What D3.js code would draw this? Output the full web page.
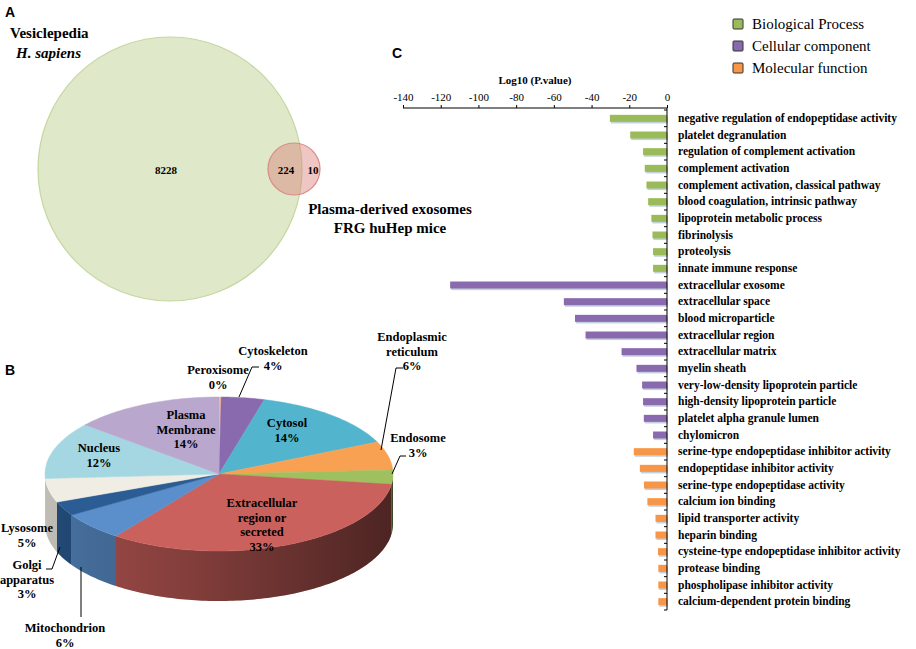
<!DOCTYPE html>
<html>
<head>
<meta charset="utf-8">
<script src="https://cdn.jsdelivr.net/npm/d3@7"></script>
<style>
  body { margin: 0; background: #fff; }
  svg { display: block; }
  text { font-family: "Liberation Serif", "Times New Roman", serif; fill: #000; }
</style>
</head>
<body>
<div id="chart"></div>
<script>
// ---- data ----
const vennNames = ["Vesiclepedia", "Plasma-derived exosomes"];
const vennCounts = [8228, 224, 10]; // only left, shared, only right

const pieNames = ["Peroxisome", "Cytoskeleton", "Cytosol", "Endoplasmic reticulum", "Endosome",
  "Extracellular region or secreted", "Mitochondrion", "Golgi apparatus", "Lysosome", "Nucleus", "Plasma Membrane"];
const piePercents = [0.2, 4, 14, 6, 3, 33, 6, 3, 5, 12, 14];
const pieShown = ["0%", "4%", "14%", "6%", "3%", "33%", "6%", "3%", "5%", "12%", "14%"];
const pieColors = ["#fac090", "#8a6aae", "#52b4cd", "#f8a153", "#9fc05f", "#cb615c",
  "#5b8fcb", "#2b5d94", "#f0eee4", "#a5d7e3", "#b9a7cd"];

const goTerms = [
  "negative regulation of endopeptidase activity", "platelet degranulation",
  "regulation of complement activation", "complement activation",
  "complement activation, classical pathway", "blood coagulation, intrinsic pathway",
  "lipoprotein metabolic process", "fibrinolysis", "proteolysis", "innate immune response",
  "extracellular exosome", "extracellular space", "blood microparticle", "extracellular region",
  "extracellular matrix", "myelin sheath", "very-low-density lipoprotein particle",
  "high-density lipoprotein particle", "platelet alpha granule lumen", "chylomicron",
  "serine-type endopeptidase inhibitor activity", "endopeptidase inhibitor activity",
  "serine-type endopeptidase activity", "calcium ion binding", "lipid transporter activity",
  "heparin binding", "cysteine-type endopeptidase inhibitor activity", "protease binding",
  "phospholipase inhibitor activity", "calcium-dependent protein binding"
];
const goValues = [-30.3, -19.5, -12.7, -11.8, -10.9, -10.0, -8.3, -7.7, -7.4, -7.4,
  -115, -54.7, -48.8, -43.2, -24.1, -16.2, -13.2, -12.7, -12.3, -7.4,
  -17.6, -14.4, -12.2, -10.4, -6.1, -6.1, -4.8, -4.6, -4.6, -4.6];
const goGroups = [0,0,0,0,0,0,0,0,0,0, 1,1,1,1,1,1,1,1,1,1, 2,2,2,2,2,2,2,2,2,2];
const groupNames = ["Biological Process", "Cellular component", "Molecular function"];
const groupColors = ["#9bbb59", "#8a6aae", "#f79646"];
const xTicks = [-140, -120, -100, -80, -60, -40, -20, 0];

// ---- svg ----
const W = 916, H = 649;
const svg = d3.select("#chart").append("svg").attr("width", W).attr("height", H);

const panelLetter = (t, x, y) => svg.append("text").attr("x", x).attr("y", y)
  .style("font-family", "'Liberation Sans', Arial, sans-serif")
  .attr("font-size", 14).attr("font-weight", "bold").text(t);

// ---- A: venn ----
panelLetter("A", 5, 17);
const venn = svg.append("g");
venn.append("circle").attr("cx", 170).attr("cy", 169).attr("r", 132)
  .attr("fill", "#dfe8c9").attr("stroke", "#c4d7a0").attr("stroke-width", 1.2);
venn.append("circle").attr("cx", 294).attr("cy", 169).attr("r", 26)
  .attr("fill", "#d9807a").attr("fill-opacity", 0.45).attr("stroke", "#d98a86").attr("stroke-width", 1.2);

const vennText = venn.append("g").attr("font-size", 11).attr("font-weight", "bold").attr("text-anchor", "middle");
vennText.append("text").attr("x", 166).attr("y", 174).text(vennCounts[0]);
vennText.append("text").attr("x", 286).attr("y", 174).text(vennCounts[1]);
vennText.append("text").attr("x", 313).attr("y", 174).text(vennCounts[2]);

venn.append("text").attr("x", 10).attr("y", 38).attr("font-size", 15).attr("font-weight", "bold").text(vennNames[0]);
venn.append("text").attr("x", 16).attr("y", 58).attr("font-size", 15).attr("font-weight", "bold")
  .attr("font-style", "italic").text("H. sapiens");
venn.append("text").attr("x", 390).attr("y", 214).attr("font-size", 15).attr("font-weight", "bold")
  .attr("text-anchor", "middle").text(vennNames[1]);
venn.append("text").attr("x", 390).attr("y", 233).attr("font-size", 15).attr("font-weight", "bold")
  .attr("text-anchor", "middle").text("FRG huHep mice");

// ---- B: 3D pie ----
panelLetter("B", 5, 375);
const cx = 219, cy = 474, rx = 174, ry = 77, depth = 50;
const pt = (a, r = 1, dy = 0) => [cx + rx * r * Math.sin(a), cy - ry * r * Math.cos(a) + dy];
const arcPts = (a0, a1, dy = 0) => {
  const n = Math.max(2, Math.ceil(Math.abs(a1 - a0) / 0.02));
  return d3.range(n + 1).map(i => pt(a0 + (a1 - a0) * i / n, 1, dy));
};
const slices = d3.pie().sort(null).value(d => d).startAngle(0).endAngle(2 * Math.PI)(piePercents);

const defs = svg.append("defs");
const shade = defs.append("linearGradient").attr("id", "sideShade")
  .attr("gradientUnits", "userSpaceOnUse").attr("x1", cx - rx).attr("x2", cx + rx).attr("y1", 0).attr("y2", 0);
shade.append("stop").attr("offset", 0).attr("stop-color", "#000").attr("stop-opacity", 0.05);
shade.append("stop").attr("offset", 0.45).attr("stop-color", "#000").attr("stop-opacity", 0.25);
shade.append("stop").attr("offset", 1).attr("stop-color", "#000").attr("stop-opacity", 0.55);

const pie = svg.append("g");
const line = d3.line();
// side walls (front half only)
slices.forEach((s, i) => {
  const a0 = Math.max(s.startAngle, Math.PI / 2), a1 = Math.min(s.endAngle, 3 * Math.PI / 2);
  if (a1 <= a0) return;
  const pts = arcPts(a0, a1).concat(arcPts(a1, a0, depth));
  const d = line(pts) + "Z";
  pie.append("path").attr("d", d).attr("fill", d3.color(pieColors[i]).darker(0.5));
  pie.append("path").attr("d", d).attr("fill", "url(#sideShade)");
});
// top faces
slices.forEach((s, i) => {
  const pts = [[cx, cy]].concat(arcPts(s.startAngle, s.endAngle));
  pie.append("path").attr("d", line(pts) + "Z").attr("fill", pieColors[i])
    .attr("stroke", pieColors[i]).attr("stroke-width", 0.5);
});

// pie labels (layout: text anchor point, optional leader)
const pieLabelLayout = [
  { x: 218, y: 374, lines: ["Peroxisome"] },
  { x: 273, y: 355, lines: ["Cytoskeleton"], lead: [[239, 397], [252, 367], [259, 367]] },
  { x: 287, y: 427, lines: ["Cytosol"] },
  { x: 412, y: 341, lines: ["Endoplasmic", "reticulum"], lead: [[381, 450], [396, 368], [403, 368]] },
  { x: 418, y: 442, lines: ["Endosome"], lead: [[392, 474], [400, 456], [406, 456]] },
  { x: 262, y: 507, lines: ["Extracellular", "region or", "secreted"] },
  { x: 65, y: 632, lines: ["Mitochondrion"], lead: [[81, 617], [81, 567]] },
  { x: 27, y: 569, lines: ["Golgi", "apparatus"], lead: [[46, 569], [52, 569], [60, 547]] },
  { x: 27, y: 532, lines: ["Lysosome"] },
  { x: 99, y: 452, lines: ["Nucleus"] },
  { x: 186, y: 419, lines: ["Plasma", "Membrane"] }
];
const labG = svg.append("g").attr("font-size", 12.5).attr("font-weight", "bold").attr("text-anchor", "middle");
pieLabelLayout.forEach((L, i) => {
  const t = labG.append("text").attr("x", L.x).attr("y", L.y);
  L.lines.concat([pieShown[i]]).forEach((s, k) => {
    t.append("tspan").attr("x", L.x).attr("dy", k === 0 ? 0 : 14.6).text(s);
  });
  if (L.lead) labG.append("path").attr("d", line(L.lead)).attr("fill", "none")
    .attr("stroke", "#000").attr("stroke-width", 1);
});

// ---- C: bar chart ----
panelLetter("C", 392, 58);
const x = d3.scaleLinear().domain([-140, 0]).range([403, 667]);
const y = d3.scaleBand().domain(goTerms).range([110, 610]).paddingInner(0);
const barH = 7;

const bars = svg.append("g");
goTerms.forEach((t, i) => {
  const yy = y(t) + y.bandwidth() / 2 - barH / 2;
  bars.append("rect").attr("x", x(goValues[i]) + 1).attr("y", yy + 1.6)
    .attr("width", x(0) - x(goValues[i])).attr("height", barH)
    .attr("fill", "#a9bccf").attr("opacity", 0.7);
  bars.append("rect").attr("x", x(goValues[i])).attr("y", yy)
    .attr("width", x(0) - x(goValues[i])).attr("height", barH)
    .attr("fill", groupColors[goGroups[i]]);
});

// top axis
const xAxis = svg.append("g").attr("transform", "translate(0,108)")
  .call(d3.axisTop(x).tickValues(xTicks).tickSize(3).tickPadding(4).tickFormat(d => String(d)));
xAxis.select(".domain").attr("d", `M${x(-140)},0H${x(0)}`).attr("stroke", "#000");
xAxis.selectAll("text").attr("font-size", 11).style("font-family", "'Liberation Serif', serif").attr("fill", "#000");
xAxis.selectAll(".tick line").attr("stroke", "#000");

svg.append("text").attr("x", 535).attr("y", 84).attr("text-anchor", "middle")
  .attr("font-size", 11).attr("font-weight", "bold").text("Log10 (P.value)");

// vertical axis at zero with category labels on the right
const yAxis = svg.append("g").attr("transform", `translate(${x(0)},0)`)
  .call(d3.axisRight(y).tickSize(0).tickPadding(11));
yAxis.select(".domain").attr("d", `M0,108V${y.range()[1]}`).attr("stroke", "#000");
yAxis.selectAll("text").attr("font-size", 11.5).attr("font-weight", "bold")
  .style("font-family", "'Liberation Serif', serif").attr("fill", "#000");
const bounds = goTerms.map(t => y(t)).concat([y.range()[1]]);
yAxis.selectAll(".btick").data(bounds).join("line").attr("class", "btick")
  .attr("x1", -3).attr("x2", 0).attr("y1", d => d).attr("y2", d => d).attr("stroke", "#000");

// legend
const leg = svg.append("g").attr("transform", "translate(733,19)");
groupNames.forEach((g, i) => {
  leg.append("rect").attr("x", 0).attr("y", i * 22).attr("width", 10).attr("height", 10)
    .attr("rx", 1).attr("fill", groupColors[i]).attr("stroke", "#333").attr("stroke-width", 1);
  leg.append("text").attr("x", 19).attr("y", i * 22 + 10).attr("font-size", 15).text(g);
});
</script>
</body>
</html>
